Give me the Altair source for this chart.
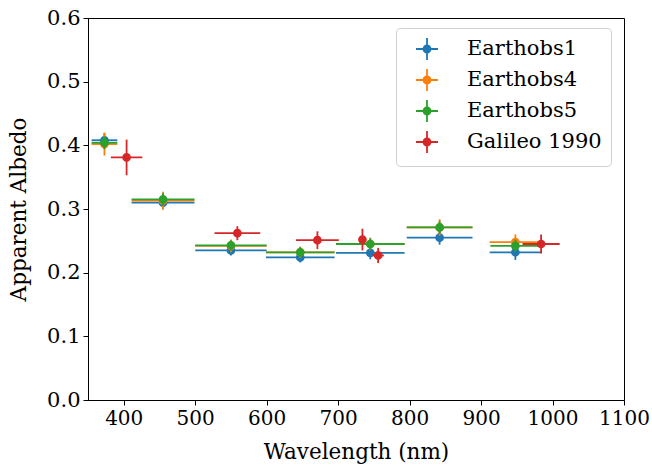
import altair as alt
import pandas as pd

series_names = ["Earthobs1", "Earthobs4", "Earthobs5", "Galileo 1990"]
series_colors = ["#1f77b4", "#ff7f0e", "#2ca02c", "#d62728"]

# Earthobs1
e1_x = [373, 455, 550, 647, 745, 842, 948]
e1_xerr = [18, 44, 50, 48, 48, 46, 36]
e1_y = [0.408, 0.310, 0.235, 0.224, 0.231, 0.255, 0.232]
e1_yerr = [0.011, 0.010, 0.008, 0.008, 0.010, 0.011, 0.012]

# Earthobs4
e4_x = [373, 455, 550, 647, 745, 842, 948]
e4_xerr = [18, 44, 50, 48, 48, 46, 36]
e4_y = [0.402, 0.313, 0.242, 0.232, 0.245, 0.271, 0.248]
e4_yerr = [0.018, 0.014, 0.010, 0.009, 0.010, 0.013, 0.012]

# Earthobs5
e5_x = [373, 455, 550, 647, 745, 842, 948]
e5_xerr = [18, 44, 50, 48, 48, 46, 35]
e5_y = [0.404, 0.315, 0.243, 0.232, 0.245, 0.271, 0.242]
e5_yerr = [0.010, 0.010, 0.008, 0.008, 0.009, 0.010, 0.010]

# Galileo 1990
g_x = [404, 559, 671, 734, 756, 984]
g_xerr = [22, 32, 30, 3, 8, 26]
g_y = [0.381, 0.262, 0.251, 0.252, 0.227, 0.245]
g_yerr = [0.028, 0.011, 0.014, 0.017, 0.012, 0.015]

x_ticks = [400, 500, 600, 700, 800, 900, 1000, 1100]
y_ticks = [0.0, 0.1, 0.2, 0.3, 0.4, 0.5, 0.6]

rows = []
for name, xs, xe, ys, ye in [
    (series_names[0], e1_x, e1_xerr, e1_y, e1_yerr),
    (series_names[1], e4_x, e4_xerr, e4_y, e4_yerr),
    (series_names[2], e5_x, e5_xerr, e5_y, e5_yerr),
    (series_names[3], g_x, g_xerr, g_y, g_yerr),
]:
    for x, dx, y, dy in zip(xs, xe, ys, ye):
        rows.append(dict(series=name, x=x, xlo=x - dx, xhi=x + dx,
                         y=y, ylo=y - dy, yhi=y + dy))
df = pd.DataFrame(rows)

FONT = "DejaVu Serif"
xscale = alt.Scale(domain=[350, 1100], nice=False, zero=False)
yscale = alt.Scale(domain=[0, 0.6], nice=False)
xaxis = alt.Axis(values=x_ticks, title="Wavelength (nm)", grid=False, format="d",
                 labelOverlap=False, labelFlush=False)
yaxis = alt.Axis(values=y_ticks, title="Apparent Albedo", grid=False, format=".1f",
                 labelOverlap=False, labelFontSize=21, titlePadding=16)
cscale = alt.Scale(domain=series_names, range=series_colors)

legend = alt.Legend(
    title=None, orient="none", legendX=308, legendY=10,
    symbolType="M-1,0H1M0,-1V1M0.32,0A0.32,0.32,0,1,1,-0.32,0A0.32,0.32,0,1,1,0.32,0Z",
    symbolSize=484, symbolStrokeWidth=1.8, symbolOffset=10,
    labelFont=FONT, labelFontSize=21, labelColor="black", labelOffset=28,
    rowPadding=1, padding=9, strokeColor="#d0d0d0", fillColor="white",
    cornerRadius=4,
)

base = alt.Chart(df)
layers = []
for name in series_names:
    b = base.transform_filter(alt.datum.series == name)
    hbar = b.mark_rule(strokeWidth=1.8).encode(
        x=alt.X("xlo:Q", scale=xscale, axis=xaxis),
        x2="xhi:Q",
        y=alt.Y("y:Q", scale=yscale, axis=yaxis),
        color=alt.Color("series:N", scale=cscale, legend=legend),
    )
    vbar = b.mark_rule(strokeWidth=1.8).encode(
        x=alt.X("x:Q", scale=xscale, axis=xaxis),
        y=alt.Y("ylo:Q", scale=yscale, axis=yaxis),
        y2="yhi:Q",
        color=alt.Color("series:N", scale=cscale, legend=legend),
    )
    pts = b.mark_point(filled=True, size=45, opacity=1).encode(
        x=alt.X("x:Q", scale=xscale, axis=xaxis),
        y=alt.Y("y:Q", scale=yscale, axis=yaxis),
        color=alt.Color("series:N", scale=cscale, legend=legend),
        stroke=alt.Stroke("series:N", scale=cscale, legend=legend),
    )
    layers += [hbar, vbar, pts]

chart = alt.layer(*layers).properties(
    width=536, height=382,
    autosize=alt.AutoSizeParams(type="none"),
    padding={"left": 88, "top": 18, "right": 28, "bottom": 67},
).configure_view(
    stroke="black", strokeWidth=1
).configure_axis(
    labelFont=FONT, titleFont=FONT, labelFontSize=20, titleFontSize=21.5,
    labelColor="black", titleColor="black", titleFontWeight="normal",
    domainColor="black", tickColor="black", tickSize=5, domainWidth=1, tickWidth=1,
    labelPadding=3,
).configure_axisX(
    titlePadding=13,
)

chart.save("out.html", embed_options={"renderer": "svg", "actions": False})
